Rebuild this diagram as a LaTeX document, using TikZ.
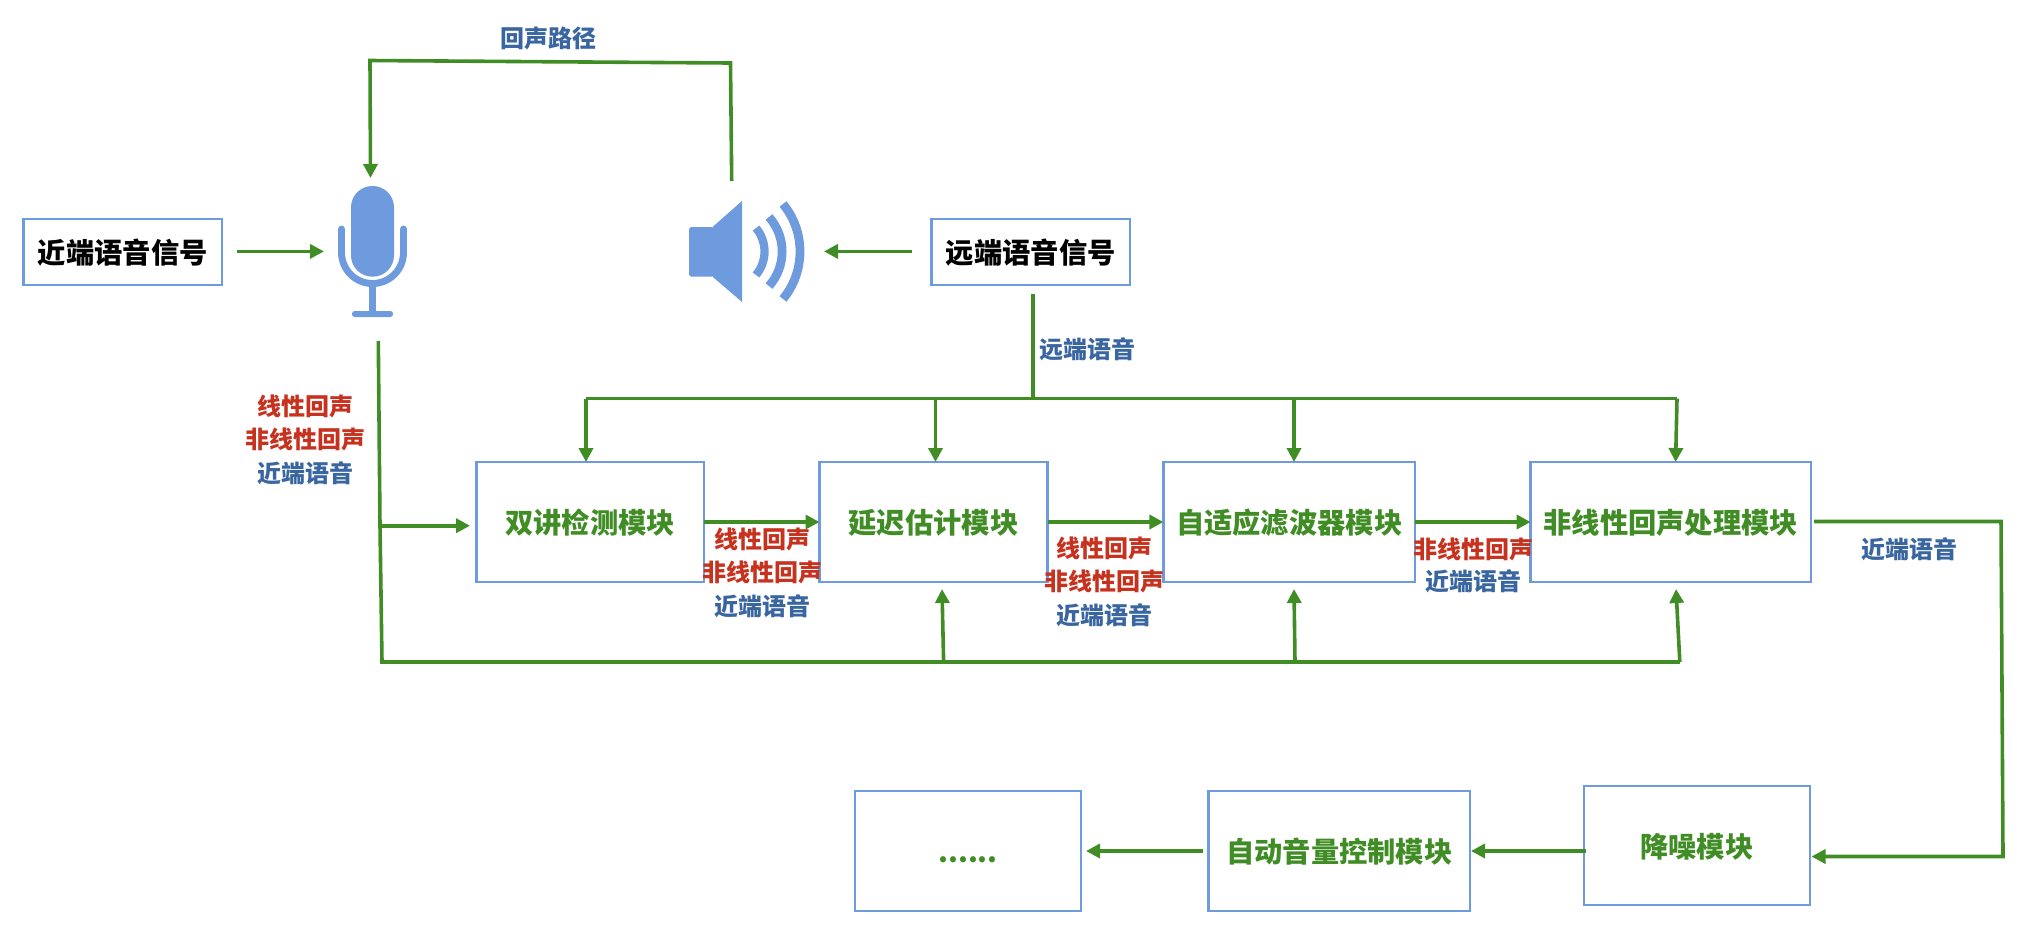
\documentclass[tikz,border=0pt]{standalone}
\usepackage{fontspec}
\setmainfont{Noto Sans CJK SC}
\usetikzlibrary{arrows.meta}
\definecolor{flowgreen}{HTML}{418D25}
\definecolor{boxblue}{HTML}{6D9BDD}
\definecolor{txtred}{HTML}{C7321F}
\definecolor{txtblue}{HTML}{3A66A0}
\def\u{0.75pt}
\newcommand{\lowertext}[2]{\raisebox{-#1}[\height][\depth]{#2}}
\tikzset{
  x=0.75pt,y=-0.75pt,
  flowline/.style={draw=flowgreen,line width=2.7pt,line join=miter},
  flowarrow/.style={flowline,-{Triangle[length=10.5pt,width=10.5pt]}},
  boxbase/.style={draw=boxblue,line width=1.7pt,fill=white,inner sep=0pt,outer sep=0pt,font=\fontsize{21.2}{25}\selectfont\bfseries},
  signalbox/.style={boxbase,text=black},
  modulebox/.style={boxbase,text=flowgreen},
  redlabel/.style={inner sep=0pt,text=txtred,font=\fontsize{18}{22}\selectfont\bfseries},
  bluelabel/.style={inner sep=0pt,text=txtblue,font=\fontsize{18}{22}\selectfont\bfseries},
  iconfill/.style={fill=boxblue,draw=none},
  iconline/.style={draw=boxblue,fill=none},
}
\begin{document}
\begin{tikzpicture}
\useasboundingbox (0,0) rectangle (2040,940);
% boxes
\node[signalbox,minimum width=198.5*\u,minimum height=66*\u] (near) at (122.75,252) {\lowertext{0.7pt}{近端语音信号}};
\node[signalbox,minimum width=198.5*\u,minimum height=66*\u] (far) at (1030.75,252) {\lowertext{0.7pt}{远端语音信号}};
\node[modulebox,minimum width=227.5*\u,minimum height=120*\u] (dt) at (590.25,522) {\lowertext{0.7pt}{双讲检测模块}};
\node[modulebox,minimum width=228*\u,minimum height=120*\u] (de) at (933.5,522) {\lowertext{0.7pt}{延迟估计模块}};
\node[modulebox,minimum width=251.6*\u,minimum height=120*\u] (af) at (1289.2,522) {\lowertext{0.7pt}{自适应滤波器模块}};
\node[modulebox,minimum width=280.4*\u,minimum height=120*\u] (nl) at (1670.8,522) {\lowertext{0.7pt}{非线性回声处理模块}};
\node[modulebox,minimum width=226.3*\u,minimum height=119*\u] (ns) at (1696.8,845.5) {\lowertext{0.7pt}{降噪模块}};
\node[modulebox,minimum width=261.4*\u,minimum height=120*\u] (ag) at (1339.3,851) {\lowertext{0.7pt}{自动音量控制模块}};
\node[modulebox,minimum width=226*\u,minimum height=120*\u] (more) at (968,851) {\lowertext{6.2pt}{......}};
% microphone
\fill[iconfill,rounded corners=16pt] (351,186) rectangle (394,276.7);
\draw[iconline,line width=5.2pt,line cap=round] (341.5,229) -- (341.5,252.5) arc[start angle=180,end angle=0,radius=31] -- (403.5,229);
\fill[iconfill] (369,286) rectangle (376,312);
\fill[iconfill,rounded corners=2pt] (352,311) rectangle (393,317);
% speaker
\fill[iconfill,rounded corners=2pt] (689,227) rectangle (714,276.7);
\fill[iconfill] (712.5,227) -- (742,201) -- (742,302) -- (712.5,276.7) -- cycle;
\draw[iconline,line width=6.2pt] (756,228) arc[start angle=-39.8,end angle=39.8,radius=36.7];
\draw[iconline,line width=6.6pt] (769,217) arc[start angle=-41.6,end angle=41.6,radius=52];
\draw[iconline,line width=6.6pt] (783,204) arc[start angle=-39.4,end angle=39.4,radius=74.8];
% anchors of the connectors
\coordinate (micleft) at (324,251.4);
\coordinate (nearout) at (237,251.4);
\coordinate (spkright) at (824,251.4);
\coordinate (farin) at (912,251.4);
\coordinate (spktop) at (731.7,181);
\coordinate (echoa) at (730.5,63);
\coordinate (echob) at (370,60.5);
\coordinate (mictop) at (370.5,178);
\coordinate (micout) at (378.3,341);
\coordinate (busleft) at (382,662);
\coordinate (busright) at (1679.8,662);
\coordinate (nlup) at (1676,589);
\coordinate (midbranch) at (380,525.7);
\coordinate (dtin) at (470,525.7);
\coordinate (busa) at (943.6,662);
\coordinate (deup) at (942,589);
\coordinate (busb) at (1295,662);
\coordinate (afup) at (1294,589);
\coordinate (farout) at (1033,294);
\coordinate (farbus) at (1033,399);
\coordinate (topl) at (586,398.5);
\coordinate (topr) at (1677,398.5);
\coordinate (topde) at (935.5,398.5);
\coordinate (topaf) at (1294,398.5);
\coordinate (nlout) at (1814,521.5);
\coordinate (outa) at (2001,521.5);
\coordinate (outb) at (2003,856.5);
\coordinate (nsin) at (1811.5,856.5);
\coordinate (nsout) at (1586,851);
\coordinate (agin) at (1471,851);
\coordinate (agout) at (1203,851);
\coordinate (morein) at (1086,851);
% connectors
\draw[flowarrow] (nearout) -- (micleft);
\draw[flowarrow] (farin) -- (spkright);
\draw[flowarrow] (spktop) -- (echoa) -- (echob) -- (mictop);
\draw[flowline] (micout) -- (midbranch) -- (busleft) -- (busright);
\draw[flowarrow] (busright) -- (nlup);
\draw[flowarrow] (midbranch) -- (dtin);
\draw[flowarrow] (busa) -- (deup);
\draw[flowarrow] (busb) -- (afup);
\draw[flowline] (farout) -- (farbus);
\draw[flowline] (topl) -- (topr);
\draw[flowarrow] (topl) -- (topl |- dt.north);
\draw[flowarrow] (topde) -- (topde |- de.north);
\draw[flowarrow] (topaf) -- (topaf |- af.north);
\draw[flowarrow] (topr) -- (1675.6,462);
\draw[flowarrow] (dt.east) -- (de.west);
\draw[flowarrow] (de.east) -- (af.west);
\draw[flowarrow] (af.east) -- (nl.west);
\draw[flowarrow] (nlout) -- (outa) -- (outb) -- (nsin);
\draw[flowarrow] (nsout) -- (agin);
\draw[flowarrow] (agout) -- (morein);
% labels
\node[bluelabel] (lecho) at (548.8,38.5) {回声路径};
\node[bluelabel] (lfar) at (1087.6,349) {远端语音};
\node[redlabel] (l1a) at (305,406) {线性回声};
\node[redlabel] (l1b) at (305,439) {非线性回声};
\node[bluelabel] (l1c) at (305,473) {近端语音};
\node[redlabel] (l2a) at (762,539) {线性回声};
\node[redlabel] (l2b) at (762,572) {非线性回声};
\node[bluelabel] (l2c) at (762,606) {近端语音};
\node[redlabel] (l3a) at (1104,548) {线性回声};
\node[redlabel] (l3b) at (1104,581) {非线性回声};
\node[bluelabel] (l3c) at (1104,615) {近端语音};
\node[redlabel] (l4a) at (1473,549) {非线性回声};
\node[bluelabel] (l4b) at (1473,581) {近端语音};
\node[bluelabel] (l5) at (1909,549) {近端语音};
\end{tikzpicture}
\end{document}
